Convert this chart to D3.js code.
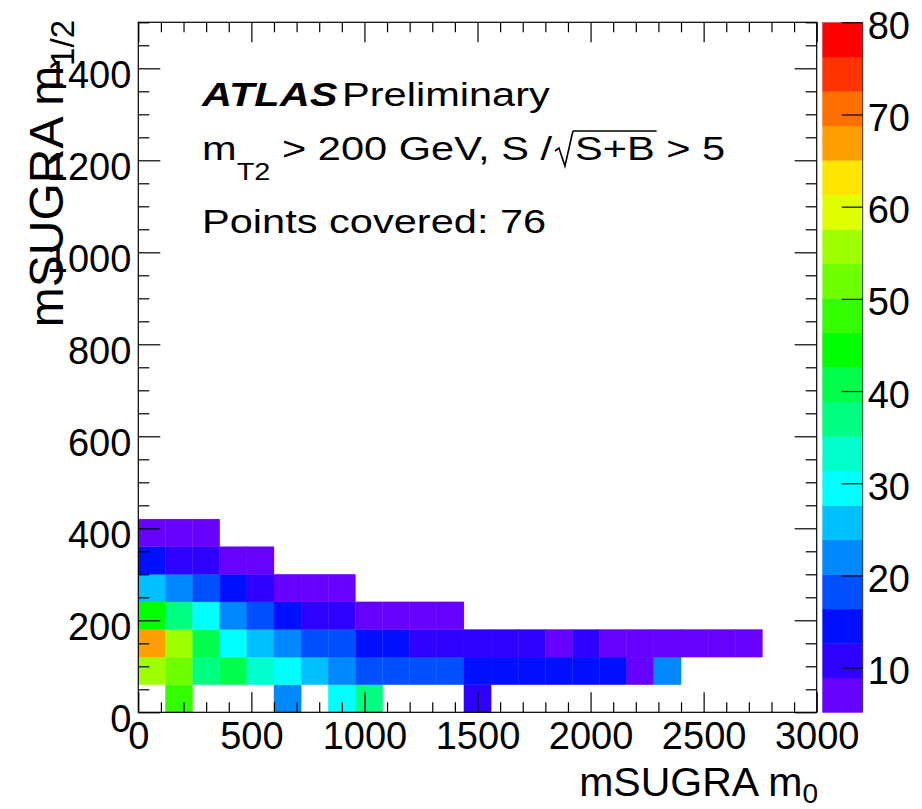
<!DOCTYPE html>
<html><head><meta charset="utf-8">
<script src="https://cdn.jsdelivr.net/npm/d3@7"></script>
<style>
body{margin:0;background:#fff}
text{font-family:"Liberation Sans",Arial,Helvetica,sans-serif;fill:#000}
</style>
</head><body>
<svg id="c" width="922" height="809"></svg>
<script>
// ---- data ----
const m0BinWidth = 120;      // GeV, bin width in m0
const m12BinWidth = 60;      // GeV, bin width in m1/2
// lower edges of the m1/2 rows that contain points
const m12Rows = [0, 60, 120, 180, 240, 300, 360];
// S/sqrt(S+B) per m0 bin (index = m0 bin, starting at 0), null = not covered
const row0 = [null, 48.0, null, null, null, 22.1, null, 29.4, 37.2, null, null, null, 10.9];
const row1 = [55.8, 51.9, 37.3, 40.6, 33.1, 29.6, 25.8, 22.0, 18.4, 18.2, 18.0, 17.9, 14.6, 14.4, 14.3, 14.2, 14.1, 13.9, 7.3, 22.3];
const row2 = [66.9, 55.6, 40.9, 29.8, 25.6, 22.2, 18.5, 18.1, 14.7, 14.3, 10.9, 10.7, 10.6, 10.5, 10.4, 8.2, 10.2, 8.0, 7.6, 7.4, 7.1, 6.9, 6.6];
const row3 = [44.6, 37.1, 29.7, 22.4, 18.6, 14.8, 11.0, 10.8, 7.9, 7.5, 7.0, 6.8];
const row4 = [25.9, 22.2, 18.2, 14.5, 10.9, 8.1, 7.4, 6.7];
const row5 = [14.6, 10.8, 10.6, 7.7, 6.9];
const row6 = [7.2, 6.8, 6.5];
const rows = [row0, row1, row2, row3, row4, row5, row6];

const xTicks = [0, 500, 1000, 1500, 2000, 2500, 3000];
const yTicks = [0, 200, 400, 600, 800, 1000, 1200, 1400];
const zTicks = [10, 20, 30, 40, 50, 60, 70, 80];
const zMin = 5.15, zMax = 80;
const palette = ["#6600ff","#2d00ff","#0010ff","#0050ff","#0088ff","#00c0ff","#00ffff","#00ffcc",
  "#00ff80","#00ff4c","#00ff00","#33ff00","#70ff00","#a0ff00","#e0ff00","#ffe600",
  "#ffa000","#ff7000","#ff3300","#ff0000"];
const nPoints = 76;

// ---- layout ----
const L = 138.3, R = 816.7, T = 22.3, B = 712.3;
const svg = d3.select("#c");
const x = d3.scaleLinear().domain([0, 3000]).range([L, R]);
const y = d3.scaleLinear().domain([0, 1500]).range([B, T]);
const z = d3.scaleLinear().domain([zMin, zMax]).range([B, T]);
const color = d3.scaleQuantize().domain([zMin, zMax]).range(palette);

const cells = [];
rows.forEach((r, ri) => r.forEach((v, ci) => {
  if (v !== null) cells.push({m0: ci * m0BinWidth, m12: m12Rows[ri], v});
}));

svg.append("g").selectAll("rect").data(cells).join("rect")
  .attr("x", d => x(d.m0))
  .attr("y", d => y(d.m12 + m12BinWidth))
  .attr("width", d => x(d.m0 + m0BinWidth) - x(d.m0))
  .attr("height", d => y(d.m12) - y(d.m12 + m12BinWidth))
  .attr("fill", d => color(d.v))
  .attr("stroke", d => color(d.v)).attr("stroke-width", 0.3);

// frame
svg.append("rect").attr("x", L).attr("y", T).attr("width", R - L).attr("height", B - T)
  .attr("fill", "none").attr("stroke", "#000").attr("stroke-width", 1.2);

const xMinor = d3.range(0, 3001, 100).filter(v => v % 500 !== 0);
const yMinor = d3.range(0, 1501, 50).filter(v => v % 200 !== 0);
const yMajor = d3.range(0, 1501, 200);

function styleAxis(g) {
  g.select(".domain").remove();
  g.selectAll(".tick line").attr("stroke", "#000").attr("stroke-width", 1.2);
  g.selectAll("text").attr("font-size", 38).attr("font-family", '"Liberation Sans",Arial,sans-serif');
}
// bottom
svg.append("g").attr("transform", `translate(0,${B})`)
  .call(d3.axisBottom(x).tickValues(xTicks).tickSize(-20).tickPadding(10).tickFormat(d3.format("d")))
  .call(styleAxis);
svg.append("g").attr("transform", `translate(0,${B})`)
  .call(d3.axisBottom(x).tickValues(xMinor).tickSize(-10).tickFormat(""))
  .call(styleAxis);
// top
svg.append("g").attr("transform", `translate(0,${T})`)
  .call(d3.axisTop(x).tickValues(xTicks).tickSize(-20).tickFormat(""))
  .call(styleAxis);
svg.append("g").attr("transform", `translate(0,${T})`)
  .call(d3.axisTop(x).tickValues(xMinor).tickSize(-10).tickFormat(""))
  .call(styleAxis);
// left
svg.append("g").attr("transform", `translate(${L},0)`)
  .call(d3.axisLeft(y).tickValues(yTicks).tickSize(-22).tickPadding(7).tickFormat(d3.format("d")))
  .call(styleAxis)
  .call(g => g.selectAll("text").attr("dy", "0.5em"));
svg.append("g").attr("transform", `translate(${L},0)`)
  .call(d3.axisLeft(y).tickValues(yMinor).tickSize(-11).tickFormat(""))
  .call(styleAxis);
// right
svg.append("g").attr("transform", `translate(${R},0)`)
  .call(d3.axisRight(y).tickValues(yMajor).tickSize(-22).tickFormat(""))
  .call(styleAxis);
svg.append("g").attr("transform", `translate(${R},0)`)
  .call(d3.axisRight(y).tickValues(yMinor).tickSize(-11).tickFormat(""))
  .call(styleAxis);

// colour bar
const cbL = 822.3, cbR = 862.7;
const bands = d3.range(palette.length).map(i => {
  const [a, b] = color.invertExtent(palette[i]);
  return {a, b, c: palette[i]};
});
svg.append("g").selectAll("rect").data(bands).join("rect")
  .attr("x", cbL).attr("width", cbR - cbL)
  .attr("y", d => z(d.b)).attr("height", d => z(d.a) - z(d.b) + 0.4)
  .attr("fill", d => d.c);
svg.append("line").attr("x1", cbR).attr("x2", cbR).attr("y1", T).attr("y2", B - 0.6)
  .attr("stroke", "#333").attr("stroke-width", 1);
svg.append("g").attr("transform", `translate(${cbR},0)`)
  .call(d3.axisRight(z).tickValues(zTicks).tickSize(-21).tickPadding(5).tickFormat(d3.format("d")))
  .call(styleAxis)
  .call(g => g.selectAll("text").attr("dy", "0.42em"));

// axis titles
const xt = svg.append("text").attr("x", 818).attr("y", 796).attr("text-anchor", "end")
  .attr("font-size", 41);
xt.append("tspan").text("mSUGRA m");
xt.append("tspan").attr("font-size", 28).attr("dy", 7).text("0");

const yt = svg.append("text").attr("transform", "translate(63,20) rotate(-90)")
  .attr("text-anchor", "end").attr("font-size", 48);
yt.append("tspan").text("mSUGRA m");
yt.append("tspan").attr("font-size", 33).attr("dy", 11).text("1/2");

// annotations (text is horizontally widened in the reference)
const sx = 1.26, fs = 33;
const NB = "\u00a0";
function ann(xr, yb, str, opt = {}) {
  const t = svg.append("text").attr("transform", `translate(${xr},${yb}) scale(${sx},1)`)
    .attr("font-size", opt.size || fs).text(str);
  if (opt.bold) t.attr("font-weight", "bold");
  if (opt.italic) t.attr("font-style", "italic");
  return t;
}
function w(t) { return t.node().getComputedTextLength() * sx; }

ann(202, 106, "ATLAS", {bold: true, italic: true});
ann(342, 106, "Preliminary");

let cx = 202;
const t1 = ann(cx, 160, "m"); cx += w(t1);
const t2 = ann(cx, 180, "T2", {size: 23}); cx += w(t2);
const t3 = ann(cx, 160, NB + "> 200 GeV, S /"); cx += w(t3) + 3;
// radical sign
const rTop = 131, rx0 = cx;
svg.append("path")
  .attr("d", `M${rx0},${151} L${rx0 + 4},${148} L${rx0 + 10},${166} L${rx0 + 18},${rTop}`)
  .attr("fill", "none").attr("stroke", "#000").attr("stroke-width", 1.6);
cx = rx0 + 20;
const t4 = ann(cx, 160, "S+B");
const sbw = w(t4);
svg.append("line").attr("x1", rx0 + 18).attr("x2", cx + sbw + 2).attr("y1", rTop).attr("y2", rTop)
  .attr("stroke", "#000").attr("stroke-width", 1.6);
cx += sbw;
ann(cx, 160, NB + ">" + NB + "5");

ann(202, 233, `Points covered: ${nPoints}`);
</script>
</body></html>
